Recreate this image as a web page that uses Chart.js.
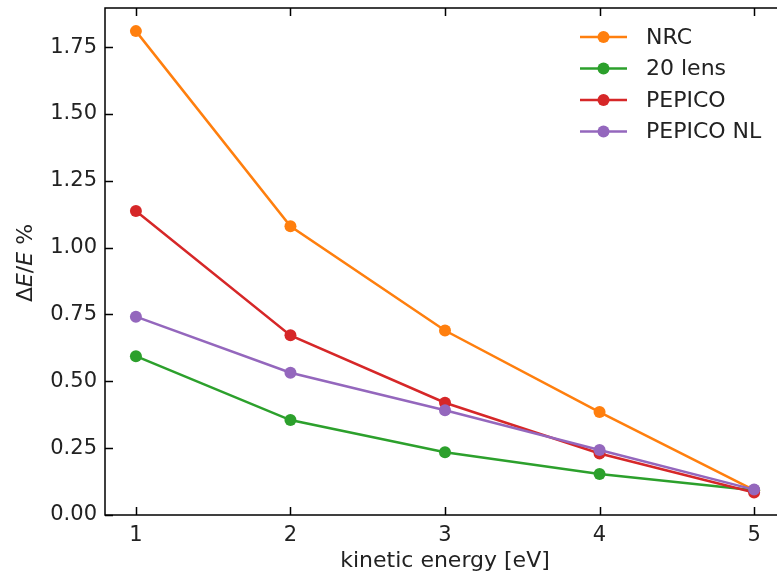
<!DOCTYPE html>
<html>
<head>
<meta charset="utf-8">
<script src="https://cdn.jsdelivr.net/npm/chart.js@4.4.0/dist/chart.umd.min.js"></script>
<style>
  html, body { margin: 0; padding: 0; background: #fff; overflow: hidden; }
  #wrap { width: 800px; height: 577px; }
</style>
</head>
<body>
<div id="wrap"><canvas id="grafica" width="800" height="577"></canvas></div>
<script>
const energia = [1, 2, 3, 4, 5];
const nrc = [1.81, 1.08, 0.69, 0.385, 0.093];
const lens20 = [0.594, 0.355, 0.235, 0.153, 0.093];
const pepico = [1.137, 0.672, 0.42, 0.23, 0.084];
const pepicoNL = [0.742, 0.532, 0.392, 0.243, 0.095];
const xTicks = [1, 2, 3, 4, 5];
const yTicks = [0, 0.25, 0.5, 0.75, 1.0, 1.25, 1.5, 1.75];

const FONT = 'DejaVu Sans';

function serie(label, values, color, order) {
    return {
        label: label,
        data: energia.map((x, i) => ({ x: x, y: values[i] })),
        borderColor: color,
        backgroundColor: color,
        borderWidth: 2.5,
        pointRadius: 6,
        pointHoverRadius: 6,
        pointBorderWidth: 0,
        order: order
    };
}

// marcos, ticks hacia dentro, leyenda y titulo del eje y
const marco = {
    id: 'marco',
    afterDraw(chart) {
        const c = chart.ctx;
        const a = chart.chartArea;
        const sx = chart.scales.x, sy = chart.scales.y;
        const tl = 8;
        c.save();
        c.strokeStyle = '#000';
        c.lineWidth = 1.5;
        c.strokeRect(a.left, a.top, a.right - a.left, a.bottom - a.top);
        c.beginPath();
        xTicks.forEach(v => {
            const px = Math.round(sx.getPixelForValue(v)) + 0.5;
            c.moveTo(px, a.bottom); c.lineTo(px, a.bottom - tl);
            c.moveTo(px, a.top); c.lineTo(px, a.top + tl);
        });
        yTicks.forEach(v => {
            const py = Math.round(sy.getPixelForValue(v)) + 0.5;
            c.moveTo(a.left, py); c.lineTo(a.left + tl, py);
            c.moveTo(a.right, py); c.lineTo(a.right - tl, py);
        });
        c.stroke();

        // leyenda
        const ds = chart.data.datasets;
        c.textBaseline = 'middle';
        c.textAlign = 'left';
        c.font = '22px ' + FONT;
        ds.forEach((d, i) => {
            const y = 37 + i * 31.5;
            c.strokeStyle = d.borderColor;
            c.lineWidth = 2.5;
            c.beginPath();
            c.moveTo(580, y); c.lineTo(627, y);
            c.stroke();
            c.fillStyle = d.backgroundColor;
            c.beginPath();
            c.arc(603.5, y, 6, 0, Math.PI * 2);
            c.fill();
            c.fillStyle = '#222';
            c.fillText(d.label, 646, y + 1);
        });

        // titulo eje y: ΔE/E %
        const partes = [['Δ', ''], ['E', 'italic '], ['/', ''], ['E', 'italic '], [' %', '']];
        let total = 0;
        partes.forEach(p => { c.font = p[1] + '22px ' + FONT; total += c.measureText(p[0]).width; });
        c.translate(26, 263);
        c.rotate(-Math.PI / 2);
        c.textBaseline = 'middle';
        c.fillStyle = '#222';
        let x0 = -total / 2;
        partes.forEach(p => {
            c.font = p[1] + '22px ' + FONT;
            c.fillText(p[0], x0, 0);
            x0 += c.measureText(p[0]).width;
        });
        c.restore();
    }
};

const ctx = document.getElementById('grafica').getContext('2d');
const ch = new Chart(ctx, {
    type: 'line',
    data: {
        datasets: [
            serie('NRC', nrc, '#ff7f0e', 4),
            serie('20 lens', lens20, '#2ca02c', 3),
            serie('PEPICO', pepico, '#d62728', 2),
            serie('PEPICO NL', pepicoNL, '#9467bd', 1)
        ]
    },
    options: {
        responsive: false,
        animation: false,
        layout: { padding: { top: 8, right: 15, left: 0, bottom: 0 } },
        plugins: {
            legend: { display: false },
            tooltip: { enabled: false }
        },
        scales: {
            x: {
                type: 'linear',
                min: 0.8,
                max: 5.2,
                afterBuildTicks: s => { s.ticks = xTicks.map(v => ({ value: v })); },
                afterFit: s => { s.height = 62; s.paddingLeft = 0; s.paddingRight = 0; },
                grid: { display: false, drawTicks: false },
                border: { display: false },
                ticks: {
                    padding: 8,
                    color: '#222',
                    font: { family: FONT, size: 21 },
                    callback: v => String(v)
                },
                title: {
                    display: true,
                    text: 'kinetic energy [eV]',
                    color: '#222',
                    font: { family: FONT, size: 22 },
                    padding: { top: 0, bottom: 3 }
                }
            },
            y: {
                min: 0,
                max: 1.8965,
                afterBuildTicks: s => { s.ticks = yTicks.map(v => ({ value: v })); },
                afterFit: s => { s.width = 105; s.paddingTop = 0; s.paddingBottom = 0; },
                grid: { display: false, drawTicks: false },
                border: { display: false },
                ticks: {
                    padding: 8,
                    color: '#222',
                    font: { family: FONT, size: 21 },
                    callback: v => Number(v).toFixed(2)
                }
            }
        }
    },
    plugins: [marco]
});
</script>
</body>
</html>
